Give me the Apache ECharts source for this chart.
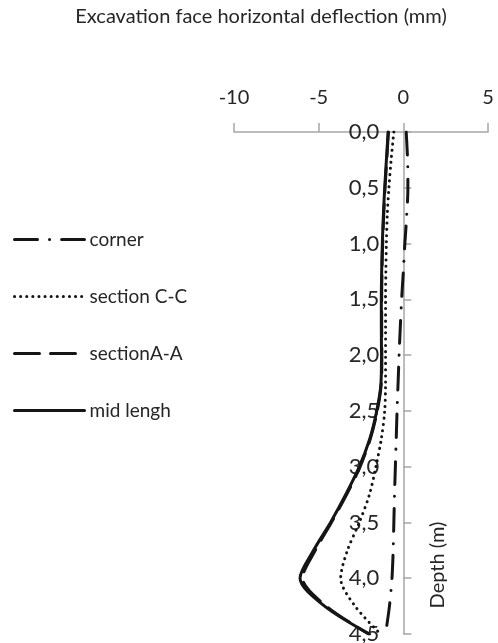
<!DOCTYPE html>
<html>
<head>
<meta charset="utf-8">
<script src="https://cdn.jsdelivr.net/npm/echarts@6/dist/echarts.min.js"></script>
<style>
  html, body { margin: 0; padding: 0; background: #fff; }
  #chart { width: 498px; height: 643px; }
</style>
</head>
<body>
<div id="chart"></div>
<script>
// Depth below the excavation top (m)
const depths = [0, 0.25, 0.5, 0.75, 1, 1.25, 1.5, 1.75, 2, 2.25, 2.5, 2.75, 3, 3.25, 3.5, 3.75, 4, 4.25, 4.5];

// Horizontal deflection of the excavation face (mm)
const corner = [0.17, 0.25, 0.27, 0.2, 0.09, 0.0, -0.1, -0.18, -0.25, -0.31, -0.37, -0.42, -0.47, -0.52, -0.56, -0.6, -0.67, -0.82, -1.05];
const sectionCC = [-0.56, -0.72, -0.85, -0.95, -1.0, -1.03, -1.05, -1.05, -1.05, -1.05, -1.1, -1.3, -1.62, -2.0, -2.6, -3.3, -3.7, -2.85, -1.35];
const sectionAA = [-0.88, -0.98, -1.08, -1.16, -1.22, -1.26, -1.28, -1.28, -1.27, -1.3, -1.54, -1.95, -2.55, -3.35, -4.25, -5.2, -5.95, -4.55, -2.05];
const midLength = [-0.9, -1.0, -1.1, -1.18, -1.24, -1.28, -1.3, -1.3, -1.29, -1.32, -1.57, -1.98, -2.6, -3.4, -4.3, -5.3, -6.1, -4.65, -2.0];

// Axis ticks
const xTicks = [-10, -5, 0, 5];
const yTicks = [0, 0.5, 1, 1.5, 2, 2.5, 3, 3.5, 4, 4.5];

const seriesNames = ['corner', 'section C-C', 'sectionA-A', 'mid lengh'];

const FONT = 'Lato';
const TEXT = '#262626';
const AXIS = '#a6a6a6';
const INK = '#151515';
const GRID_LEFT = 234;

function pairs(values) {
  return values.map((v, i) => [v, depths[i]]);
}

function lineSeries(name, values, dash) {
  return {
    name: name,
    type: 'line',
    data: pairs(values),
    showSymbol: false,
    symbol: 'circle',
    smooth: 0.3,
    lineStyle: { color: INK, width: 3, type: dash, cap: 'round', join: 'round' },
    itemStyle: { color: INK },
    z: 3
  };
}

const chart = echarts.init(document.getElementById('chart'), null, { renderer: 'canvas' });

chart.setOption({
  animation: false,
  backgroundColor: '#fff',
  textStyle: { fontFamily: FONT },
  grid: { left: GRID_LEFT, right: 10, top: 132, bottom: 9, containLabel: false, outerBoundsMode: 'none' },
  legend: {
    data: seriesNames,
    orient: 'vertical',
    left: 13,
    top: 230,
    padding: 0,
    itemWidth: 70,
    itemHeight: 16,
    itemGap: 38,
    itemStyle: { opacity: 0 },
    lineStyle: { width: 3, cap: 'round' },
    textStyle: { fontFamily: FONT, fontSize: 19, color: TEXT },
    selectedMode: false
  },
  xAxis: {
    type: 'value',
    position: 'top',
    min: xTicks[0],
    max: xTicks[xTicks.length - 1],
    interval: xTicks[1] - xTicks[0],
    splitLine: { show: false },
    axisLine: { show: true, onZero: false, lineStyle: { color: AXIS, width: 1.5 } },
    axisTick: { show: true, inside: false, length: 9, lineStyle: { color: AXIS, width: 1.5 } },
    axisLabel: { fontFamily: FONT, fontSize: 20, color: TEXT, margin: 24 }
  },
  yAxis: {
    type: 'value',
    position: 'left',
    inverse: true,
    min: yTicks[0],
    max: yTicks[yTicks.length - 1],
    interval: yTicks[1] - yTicks[0],
    splitLine: { show: false },
    axisLine: { show: true, onZero: false, lineStyle: { color: AXIS, width: 1.5 } },
    axisTick: { show: true, inside: true, length: 8, lineStyle: { color: AXIS, width: 1.5 } },
    axisLabel: {
      fontFamily: FONT, fontSize: 22, color: TEXT, margin: 24,
      formatter: v => v.toFixed(1).replace('.', ',')
    }
  },
  graphic: [
    {
      type: 'text',
      x: 261, y: 17,
      style: {
        text: 'Excavation face horizontal deflection (mm)',
        font: '20px ' + FONT, fill: TEXT, align: 'center', verticalAlign: 'middle'
      }
    },
    {
      type: 'text',
      x: 438, y: 565,
      rotation: Math.PI / 2,
      style: {
        text: 'Depth (m)',
        font: '20px ' + FONT, fill: TEXT, align: 'center', verticalAlign: 'middle'
      }
    }
  ],
  series: [
    lineSeries(seriesNames[0], corner, [23, 12, 0.1, 12]),
    lineSeries(seriesNames[1], sectionCC, [0.1, 6]),
    lineSeries(seriesNames[2], sectionAA, [25, 11]),
    lineSeries(seriesNames[3], midLength, 'solid')
  ]
});

// Place the depth axis on the zero deflection line
const zeroX = chart.convertToPixel({ xAxisIndex: 0 }, 0);
chart.setOption({ yAxis: { offset: -(zeroX - GRID_LEFT) } });
</script>
</body>
</html>
